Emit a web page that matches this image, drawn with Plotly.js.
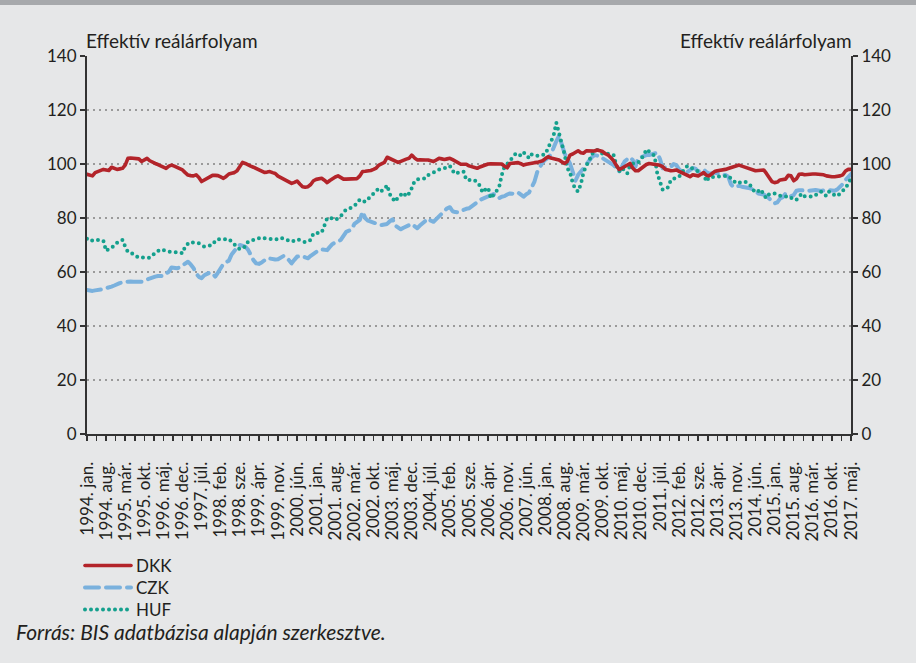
<!DOCTYPE html>
<html><head><meta charset="utf-8">
<script src="https://cdn.plot.ly/plotly-3.0.1.min.js"></script>
<style>
html,body{margin:0;padding:0;background:#e6e7e8;}
#chart{width:916px;height:663px;}
path.js-line{stroke-linecap:round;stroke-linejoin:round;}
</style></head><body><div id="chart"></div>
<script>
// Category (month) names: monthly data from 1994 jan to 2017 máj
const monthNames = ["jan.","feb.","már.","ápr.","máj.","jún.","júl.","aug.","sze.","okt.","nov.","dec."];
const firstYear = 1994;

// Tick labels shown on the x axis (every 7th month)
const tickLabels = ["1994. jan.","1994. aug.","1995. már.","1995. okt.","1996. máj.","1996. dec.","1997. júl.","1998. feb.","1998. sze.","1999. ápr.","1999. nov.","2000. jún.","2001. jan.","2001. aug.","2002. már.","2002. okt.","2003. máj.","2003. dec.","2004. júl.","2005. feb.","2005. sze.","2006. ápr.","2006. nov.","2007. jún.","2008. jan.","2008. aug.","2009. már.","2009. okt.","2010. máj.","2010. dec.","2011. júl.","2012. feb.","2012. sze.","2013. ápr.","2013. nov.","2014. jún.","2015. jan.","2015. aug.","2016. már.","2016. okt.","2017. máj."];

const dkk = [
96.2,95.8,95.6,96.8,97.2,97.5,98.0,97.8,97.6,98.8,98.3,98.0,
98.2,98.4,99.6,102.1,102.2,102.0,102.1,101.9,100.9,101.5,102.1,101.2,
100.6,100.2,99.8,99.4,98.8,98.4,99.2,99.6,99.2,98.8,98.2,97.8,
96.8,95.9,95.7,95.6,96.0,95.0,93.5,94.0,94.7,95.3,95.8,95.8,
95.7,95.2,94.7,95.4,96.3,96.6,96.8,97.5,99.0,100.6,100.2,99.6,
99.2,98.8,98.3,97.8,97.4,96.9,97.0,97.2,96.8,96.5,95.5,95.0,
94.4,94.1,93.4,92.8,93.2,93.7,92.6,91.6,91.4,91.6,92.4,93.8,
94.3,94.5,94.7,94.0,93.1,93.9,94.7,95.2,95.6,95.0,94.4,94.4,
94.4,94.3,94.4,94.6,95.6,97.2,97.3,97.4,97.6,98.0,98.5,99.6,
100.1,100.6,102.5,102.0,101.5,101.0,100.6,101.0,101.5,101.8,102.1,103.3,
102.3,101.5,101.6,101.7,101.5,101.5,101.2,100.9,101.5,102.1,101.9,101.7,
101.9,102.1,101.6,100.9,100.3,99.9,99.9,99.9,99.3,99.0,98.6,98.4,
98.9,99.3,99.6,100.0,100.1,100.1,100.2,100.1,100.0,99.2,98.6,100.2,
100.3,100.4,100.5,100.1,99.6,99.9,100.2,100.4,100.5,100.6,101.0,101.2,
102.0,102.7,102.2,101.9,101.6,101.5,100.8,100.2,100.9,103.3,103.7,104.3,
104.9,104.2,104.0,104.9,104.8,104.6,104.8,105.2,104.9,104.6,103.8,103.3,
102.3,101.2,99.5,98.0,98.4,99.0,99.6,100.2,98.5,97.5,97.5,98.4,
99.3,99.8,100.2,100.1,100.0,99.9,99.5,99.0,98.0,97.8,97.5,97.6,
97.8,97.3,96.8,96.2,95.5,95.3,96.0,95.8,95.6,96.2,96.8,95.8,
95.6,96.4,97.2,97.5,97.6,97.8,98.0,98.3,98.6,98.8,99.2,99.6,
99.2,98.8,98.4,98.0,97.8,97.5,97.6,97.7,97.8,96.5,94.8,93.5,
93.1,93.3,94.1,94.2,94.4,95.8,95.6,93.8,94.5,96.2,96.3,96.0,
96.2,96.3,96.3,96.3,96.3,96.2,96.0,95.6,95.3,95.3,95.3,95.3,
95.6,96.0,97.4,98.0,98.0];

const czk = [
53.3,53.1,53.0,53.2,53.3,53.5,53.7,54.0,54.2,54.6,55.0,55.6,
55.9,56.2,56.4,56.5,56.5,56.4,56.4,56.4,56.4,56.9,57.3,57.8,
58.0,58.3,58.5,58.5,58.5,59.5,60.1,61.7,61.6,61.4,61.7,62.5,
63.2,63.8,62.8,61.5,59.5,58.2,57.7,58.8,59.3,59.8,59.5,58.3,
59.8,61.5,63.0,63.6,64.2,66.5,68.1,69.1,70.0,69.8,69.4,68.3,
66.0,64.4,63.2,63.0,63.5,64.2,65.1,65.0,64.7,64.6,64.7,65.2,
65.9,65.6,64.4,63.2,64.5,65.7,65.8,65.9,65.4,65.1,66.0,66.7,
67.5,68.1,68.4,68.3,68.1,69.3,70.4,70.9,71.2,71.9,73.5,74.9,
75.3,75.8,77.8,78.8,79.3,82.3,79.9,79.0,78.6,78.3,77.9,77.6,
77.4,77.6,77.8,78.8,79.5,77.2,76.5,75.8,76.4,77.0,77.4,77.8,
77.0,76.2,77.2,78.0,79.0,79.8,79.0,78.6,79.6,80.7,81.8,83.0,
83.6,84.0,82.5,82.2,82.1,82.6,83.2,83.4,83.6,84.3,84.8,85.8,
86.7,87.2,87.3,87.9,88.4,88.9,87.8,87.3,87.9,88.1,88.7,89.1,
89.0,88.9,89.4,88.8,87.9,88.8,89.4,91.4,93.5,97.0,99.2,100.6,
101.6,102.3,103.6,105.6,108.4,110.5,106.8,104.0,102.2,100.2,97.2,93.8,
96.0,97.5,98.4,99.8,101.5,102.5,103.3,103.0,102.9,102.1,101.5,100.9,
100.2,99.6,98.5,97.2,99.0,100.9,101.8,102.5,101.5,99.0,102.1,102.6,
103.0,103.3,103.3,103.6,104.0,104.2,101.8,98.4,98.7,99.0,99.0,100.0,
99.6,98.0,97.2,96.5,97.0,97.8,98.5,98.3,97.2,97.5,98.0,97.0,
96.5,96.6,96.8,96.5,96.5,96.0,95.9,95.3,92.5,91.4,91.8,91.9,
91.6,91.5,91.2,91.0,90.6,89.6,89.1,88.9,88.7,88.1,87.2,86.4,
85.4,85.8,87.2,87.7,89.1,88.6,88.1,88.5,90.1,90.3,90.4,90.2,
90.0,90.2,90.3,90.4,90.2,90.0,90.2,90.4,90.3,90.2,90.1,90.6,
91.4,92.6,94.1,95.3,96.3];

const huf = [
72.3,72.5,71.6,71.8,71.9,71.7,71.6,67.8,68.6,69.2,69.6,70.8,
71.4,71.9,69.4,67.4,67.0,66.7,65.9,65.3,65.4,65.4,65.3,65.3,
66.2,67.2,67.8,68.4,68.0,67.6,67.5,67.5,67.5,67.5,67.2,66.9,
69.6,70.5,71.2,70.9,70.7,70.6,70.0,69.4,69.6,69.7,70.0,71.5,
72.2,72.1,72.1,72.2,72.2,71.2,70.4,69.4,68.4,68.9,69.4,71.2,
71.5,71.9,72.2,72.5,72.8,72.5,72.3,72.2,72.1,72.0,72.3,72.7,
72.3,71.9,71.6,71.2,71.6,72.1,71.8,71.4,71.0,71.4,71.9,74.3,
74.5,74.7,74.6,77.2,79.9,80.2,79.8,79.3,79.9,80.7,82.0,83.2,
83.5,83.8,84.6,85.4,86.9,86.4,86.0,87.0,88.0,88.9,90.0,91.0,
90.1,90.7,92.2,88.8,87.2,86.0,87.7,88.6,89.4,87.9,89.0,91.0,
93.5,94.3,94.5,94.6,94.7,95.9,96.3,96.8,97.5,98.1,98.3,98.4,
98.8,99.3,97.5,96.3,96.8,97.2,97.2,94.1,94.0,94.2,94.0,93.2,
91.9,89.4,90.5,91.2,87.3,88.5,89.8,91.2,95.9,99.0,100.0,101.2,
102.5,103.7,104.0,103.0,104.2,103.5,102.1,103.6,103.3,103.0,103.3,103.3,
103.7,106.0,108.0,110.5,115.3,112.0,107.5,103.8,98.5,97.0,93.0,90.6,
89.8,92.6,97.0,99.5,101.0,103.7,104.5,105.2,104.2,103.8,104.0,103.8,
103.5,103.3,99.5,97.2,98.6,97.5,96.5,99.5,100.2,100.4,100.5,102.0,
103.0,105.4,104.6,103.8,103.0,96.5,93.5,90.4,90.8,91.4,94.1,94.6,
95.0,95.3,96.8,98.2,99.3,98.8,98.3,98.0,97.6,97.2,96.3,93.5,
95.1,95.2,95.3,95.3,95.3,95.3,95.4,95.6,94.6,93.5,92.8,93.1,
93.3,93.5,93.0,92.2,90.6,89.4,89.9,90.6,88.5,87.3,88.8,89.0,
89.1,88.6,88.1,88.0,87.9,88.1,87.5,86.7,86.7,87.8,89.1,88.1,
88.0,88.0,87.9,88.5,89.2,89.8,89.0,88.1,89.8,89.0,88.5,88.1,
89.0,90.0,91.1,92.8,94.7];

// month category labels, one per data point
const monthLabels = dkk.map((_, i) => (firstYear + Math.floor(i / 12)) + ". " + monthNames[i % 12]);
const xIdx = monthLabels.map((_, i) => i);
const tickIdx = tickLabels.map(t => monthLabels.indexOf(t));

const FONT = "Lato, 'Open Sans', sans-serif";
const INK = "#231f20";

const traces = [
  {name:"CZK", x:xIdx, y:czk, text:monthLabels, mode:"lines", legend:"legend2",
   line:{color:"#7ab1dd", width:4, dash:"14px,7px"}, hoverinfo:"text+y"},
  {name:"HUF", x:xIdx, y:huf, text:monthLabels, mode:"lines", legend:"legend3",
   line:{color:"#14a08d", width:4, dash:"0px,6px"}, hoverinfo:"text+y"},
  {name:"DKK", x:xIdx, y:dkk, text:monthLabels, mode:"lines", legend:"legend",
   line:{color:"#b3242a", width:3.6}, hoverinfo:"text+y"},
  {name:"_r", x:[0], y:[0], yaxis:"y2", mode:"none", showlegend:false, hoverinfo:"skip"}
];

const yaxisCommon = {
  range:[0,140], dtick:20, tick0:0, fixedrange:true,
  showline:true, linecolor:"#333", linewidth:2,
  ticks:"outside", ticklen:5, tickwidth:2, tickcolor:"#333",
  tickfont:{family:FONT, size:17, color:INK}, zeroline:false
};

function legendAt(yCenter) {
  return {
    xref:"container", yref:"container", x:80/916, y:1-(yCenter-17)/663,
    xanchor:"left", yanchor:"top", itemwidth:46,
    font:{family:FONT, size:17, color:INK}, bgcolor:"rgba(0,0,0,0)", borderwidth:0
  };
}

const layout = {
  width:916, height:663,
  paper_bgcolor:"#e6e7e8", plot_bgcolor:"#e6e7e8",
  margin:{l:87, r:65, t:56, b:229, autoexpand:false},
  font:{family:FONT, color:INK},
  showlegend:true,
  xaxis:{
    range:[0, monthLabels.length-1], tickmode:"array", tickvals:tickIdx, ticktext:tickLabels,
    tickangle:-90, tickfont:{family:FONT, size:17, color:INK}, ticklabelstandoff:14,
    showline:true, linecolor:"#333", linewidth:2, showgrid:false, zeroline:false,
    ticks:"outside", ticklen:5, tickwidth:1.5, tickcolor:"#333",
    minor:{dtick:3.5, tick0:0, ticks:"outside", ticklen:5, tickwidth:1.5, tickcolor:"#333", showgrid:false},
    fixedrange:true, automargin:false
  },
  yaxis:Object.assign({}, yaxisCommon, {
    showgrid:true, gridcolor:"#9a9a9a", gridwidth:1.3, griddash:"2px,4px", side:"left", automargin:false
  }),
  yaxis2:Object.assign({}, yaxisCommon, {overlaying:"y", side:"right", anchor:"x", showgrid:false, automargin:false}),
  legend:legendAt(565),
  legend2:legendAt(587),
  legend3:legendAt(609),
  annotations:[
    {text:"Effektív reálárfolyam", xref:"paper", yref:"paper", x:0, y:1+(56-40)/378,
     xanchor:"left", yanchor:"middle", showarrow:false, xshift:-3, font:{family:FONT, size:19, color:INK}},
    {text:"Effektív reálárfolyam", xref:"paper", yref:"paper", x:1, y:1+(56-40)/378,
     xanchor:"right", yanchor:"middle", showarrow:false, xshift:3, font:{family:FONT, size:19, color:INK}},
    {text:"<i>Forrás: BIS adatbázisa alapján szerkesztve.</i>", xref:"paper", yref:"paper",
     x:(14-87)/764, y:(434-631)/378, xanchor:"left", yanchor:"middle", showarrow:false,
     font:{family:FONT, size:21, color:INK}}
  ],
  shapes:[
    {type:"rect", xref:"paper", yref:"paper", x0:-0.2, x1:1.2, y0:(434-5)/378, y1:1.3,
     fillcolor:"#a7a9ac", line:{width:0}, layer:"above"}
  ]
};

Plotly.newPlot("chart", traces, layout, {staticPlot:true, displayModeBar:false});
</script></body></html>
